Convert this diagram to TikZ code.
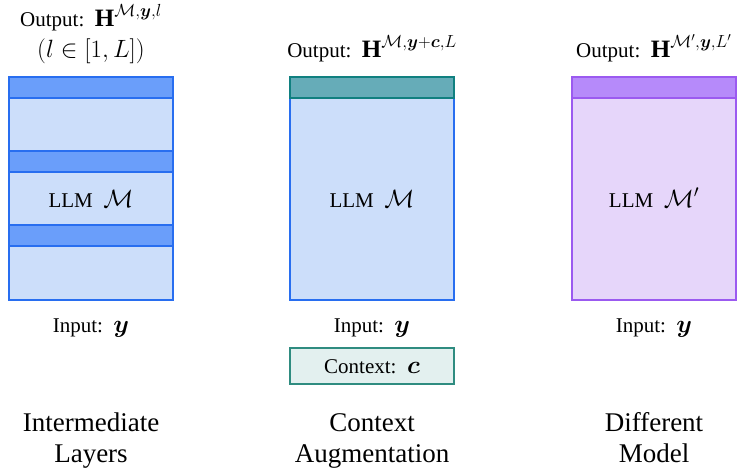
\RequirePackage{fix-cm}
\documentclass[tikz,border=0pt]{standalone}
\usepackage{amsmath,amssymb,bm}
\usepackage{fontspec}
\setmainfont{Liberation Serif}
\newcommand\mymath[1]{{\fontsize{25}{29}\selectfont$#1$}}
\definecolor{blueborder}{RGB}{40,110,240}
\definecolor{bluefill}{RGB}{204,222,250}
\definecolor{blueband}{RGB}{106,158,250}
\definecolor{tealband}{RGB}{102,172,184}
\definecolor{tealborder}{RGB}{16,128,128}
\definecolor{ctxfill}{RGB}{227,240,239}
\definecolor{ctxborder}{RGB}{47,140,128}
\definecolor{purpfill}{RGB}{230,214,250}
\definecolor{purpborder}{RGB}{155,90,240}
\definecolor{purpband}{RGB}{182,138,250}
\begin{document}
\begin{tikzpicture}[x=1pt,y=-1pt,
  txt/.style={font=\fontsize{21}{25}\selectfont, inner sep=0pt, anchor=base},
  captxt/.style={font=\fontsize{27}{31}\selectfont, inner sep=0pt, align=center, anchor=base},
  llmbox/.style={draw=#1, line width=1.5pt, minimum width=164, minimum height=223, inner sep=0pt},
  band/.style={draw=#1, line width=1.5pt, minimum width=164, minimum height=21, inner sep=0pt}]
\useasboundingbox (0,0) rectangle (749,472);
% column 1
\node[llmbox=blueborder, fill=bluefill] (m1) at (91,188.5) {};
\node[band=blueborder, fill=blueband] (b1a) at (91,87.5) {};
\node[band=blueborder, fill=blueband] (b1b) at (91,161.5) {};
\node[band=blueborder, fill=blueband] (b1c) at (91,235.5) {};
\node[txt] (l1) at (91,207) {LLM~~\mymath{\mathcal{M}}};
\node[txt] (o1) at (91,26) {Output:~~\mymath{\mathbf{H}^{\mathcal{M},\bm{y},l}}};
\node[txt] (o1b) at (91,57) {\mymath{(l\in[1,L])}};
\node[txt] (i1) at (91,332) {Input:~~\mymath{\bm{y}}};
\node[captxt] (c1) at (91,462) {Intermediate\\Layers};
% column 2
\node[llmbox=blueborder, fill=bluefill] (m2) at (372,188.5) {};
\node[band=tealborder, fill=tealband] (b2a) at (372,87.5) {};
\node[txt] (l2) at (372,207) {LLM~~\mymath{\mathcal{M}}};
\node[txt] (o2) at (372,57) {Output:~~\mymath{\mathbf{H}^{\mathcal{M},\bm{y}+\bm{c},L}}};
\node[txt] (i2) at (372,332) {Input:~~\mymath{\bm{y}}};
\node[draw=ctxborder, fill=ctxfill, line width=1.5pt, minimum width=164, minimum height=36, inner sep=0pt] (ctx) at (372,366) {};
\node[txt] (ctxt) at (372,373) {Context:~~\mymath{\bm{c}}};
\node[captxt] (c2) at (372,462) {Context\\Augmentation};
% column 3
\node[llmbox=purpborder, fill=purpfill] (m3) at (654,188.5) {};
\node[band=purpborder, fill=purpband] (b3a) at (654,87.5) {};
\node[txt] (l3) at (654,207) {LLM~~\mymath{\mathcal{M}'}};
\node[txt] (o3) at (654,57) {Output:~~\mymath{\mathbf{H}^{\mathcal{M}',\bm{y},L'}}};
\node[txt] (i3) at (654,332) {Input:~~\mymath{\bm{y}}};
\node[captxt] (c3) at (654,462) {Different\\Model};
\end{tikzpicture}
\end{document}
